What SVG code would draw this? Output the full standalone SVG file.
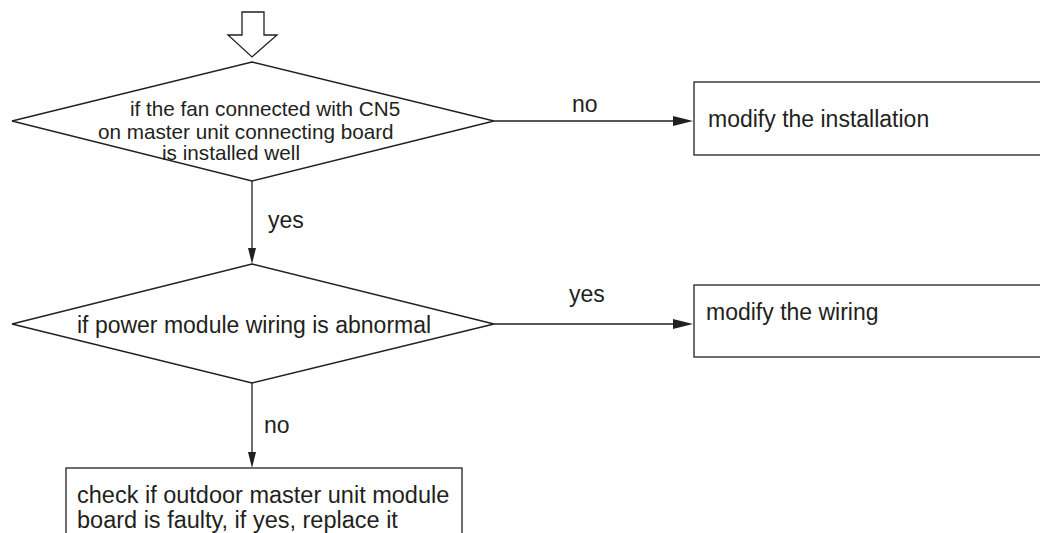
<svg xmlns="http://www.w3.org/2000/svg" width="1040" height="533" viewBox="0 0 1040 533">
<style>
.s{fill:#fff;stroke:#231f20;stroke-width:1.3}
.t{font-family:"Liberation Sans",Arial,sans-serif;fill:#231f20;font-size:23px}
.u{font-size:20.7px}
.w{font-size:23.5px}
.c{stroke:#231f20;stroke-width:1.3;fill:none}
.h{fill:#231f20;stroke:none}
</style>
<rect width="1040" height="533" fill="#fff"/>
<g id="start">
<polygon class="s" points="242,12 264,12 264,35 277,35 252,57 228,35 242,35"/>
</g>
<g id="d1">
<polygon class="s" points="252,62 494,121 252,181 12,121"/>
<text class="t u" x="130" y="116">if the fan connected with CN5</text>
<text class="t u" x="98" y="139">on master unit connecting board</text>
<text class="t u" x="162" y="160">is installed well</text>
</g>
<g id="b1">
<rect class="s" x="694" y="82" width="360" height="73"/>
<text class="t" x="708" y="127">modify the installation</text>
</g>
<g id="d2">
<polygon class="s" points="252,264 494,324 252,383 12,324"/>
<text class="t" x="77" y="333">if power module wiring is abnormal</text>
</g>
<g id="b2">
<rect class="s" x="694" y="285" width="360" height="72"/>
<text class="t" x="706" y="320">modify the wiring</text>
</g>
<g id="b3">
<rect class="s" x="66" y="468" width="396" height="80"/>
<text class="t w" x="77" y="503">check if outdoor master unit module</text>
<text class="t w" x="77" y="528">board is faulty, if yes, replace it</text>
</g>
<g id="connectors">
<line class="c" x1="494" y1="121" x2="675" y2="121"/>
<polygon class="h" points="673,116 693,121 673,126"/>
<text class="t" x="572" y="112">no</text>
<line class="c" x1="494" y1="324" x2="675" y2="324"/>
<polygon class="h" points="673,319 693,324 673,329"/>
<text class="t" x="569" y="302">yes</text>
<line class="c" x1="252" y1="181" x2="252" y2="250"/>
<polygon class="h" points="248,248 252,264 256,248"/>
<text class="t" x="268" y="228">yes</text>
<line class="c" x1="252" y1="383" x2="252" y2="454"/>
<polygon class="h" points="248,452 252,468 256,452"/>
<text class="t" x="264" y="433">no</text>
</g>
</svg>
